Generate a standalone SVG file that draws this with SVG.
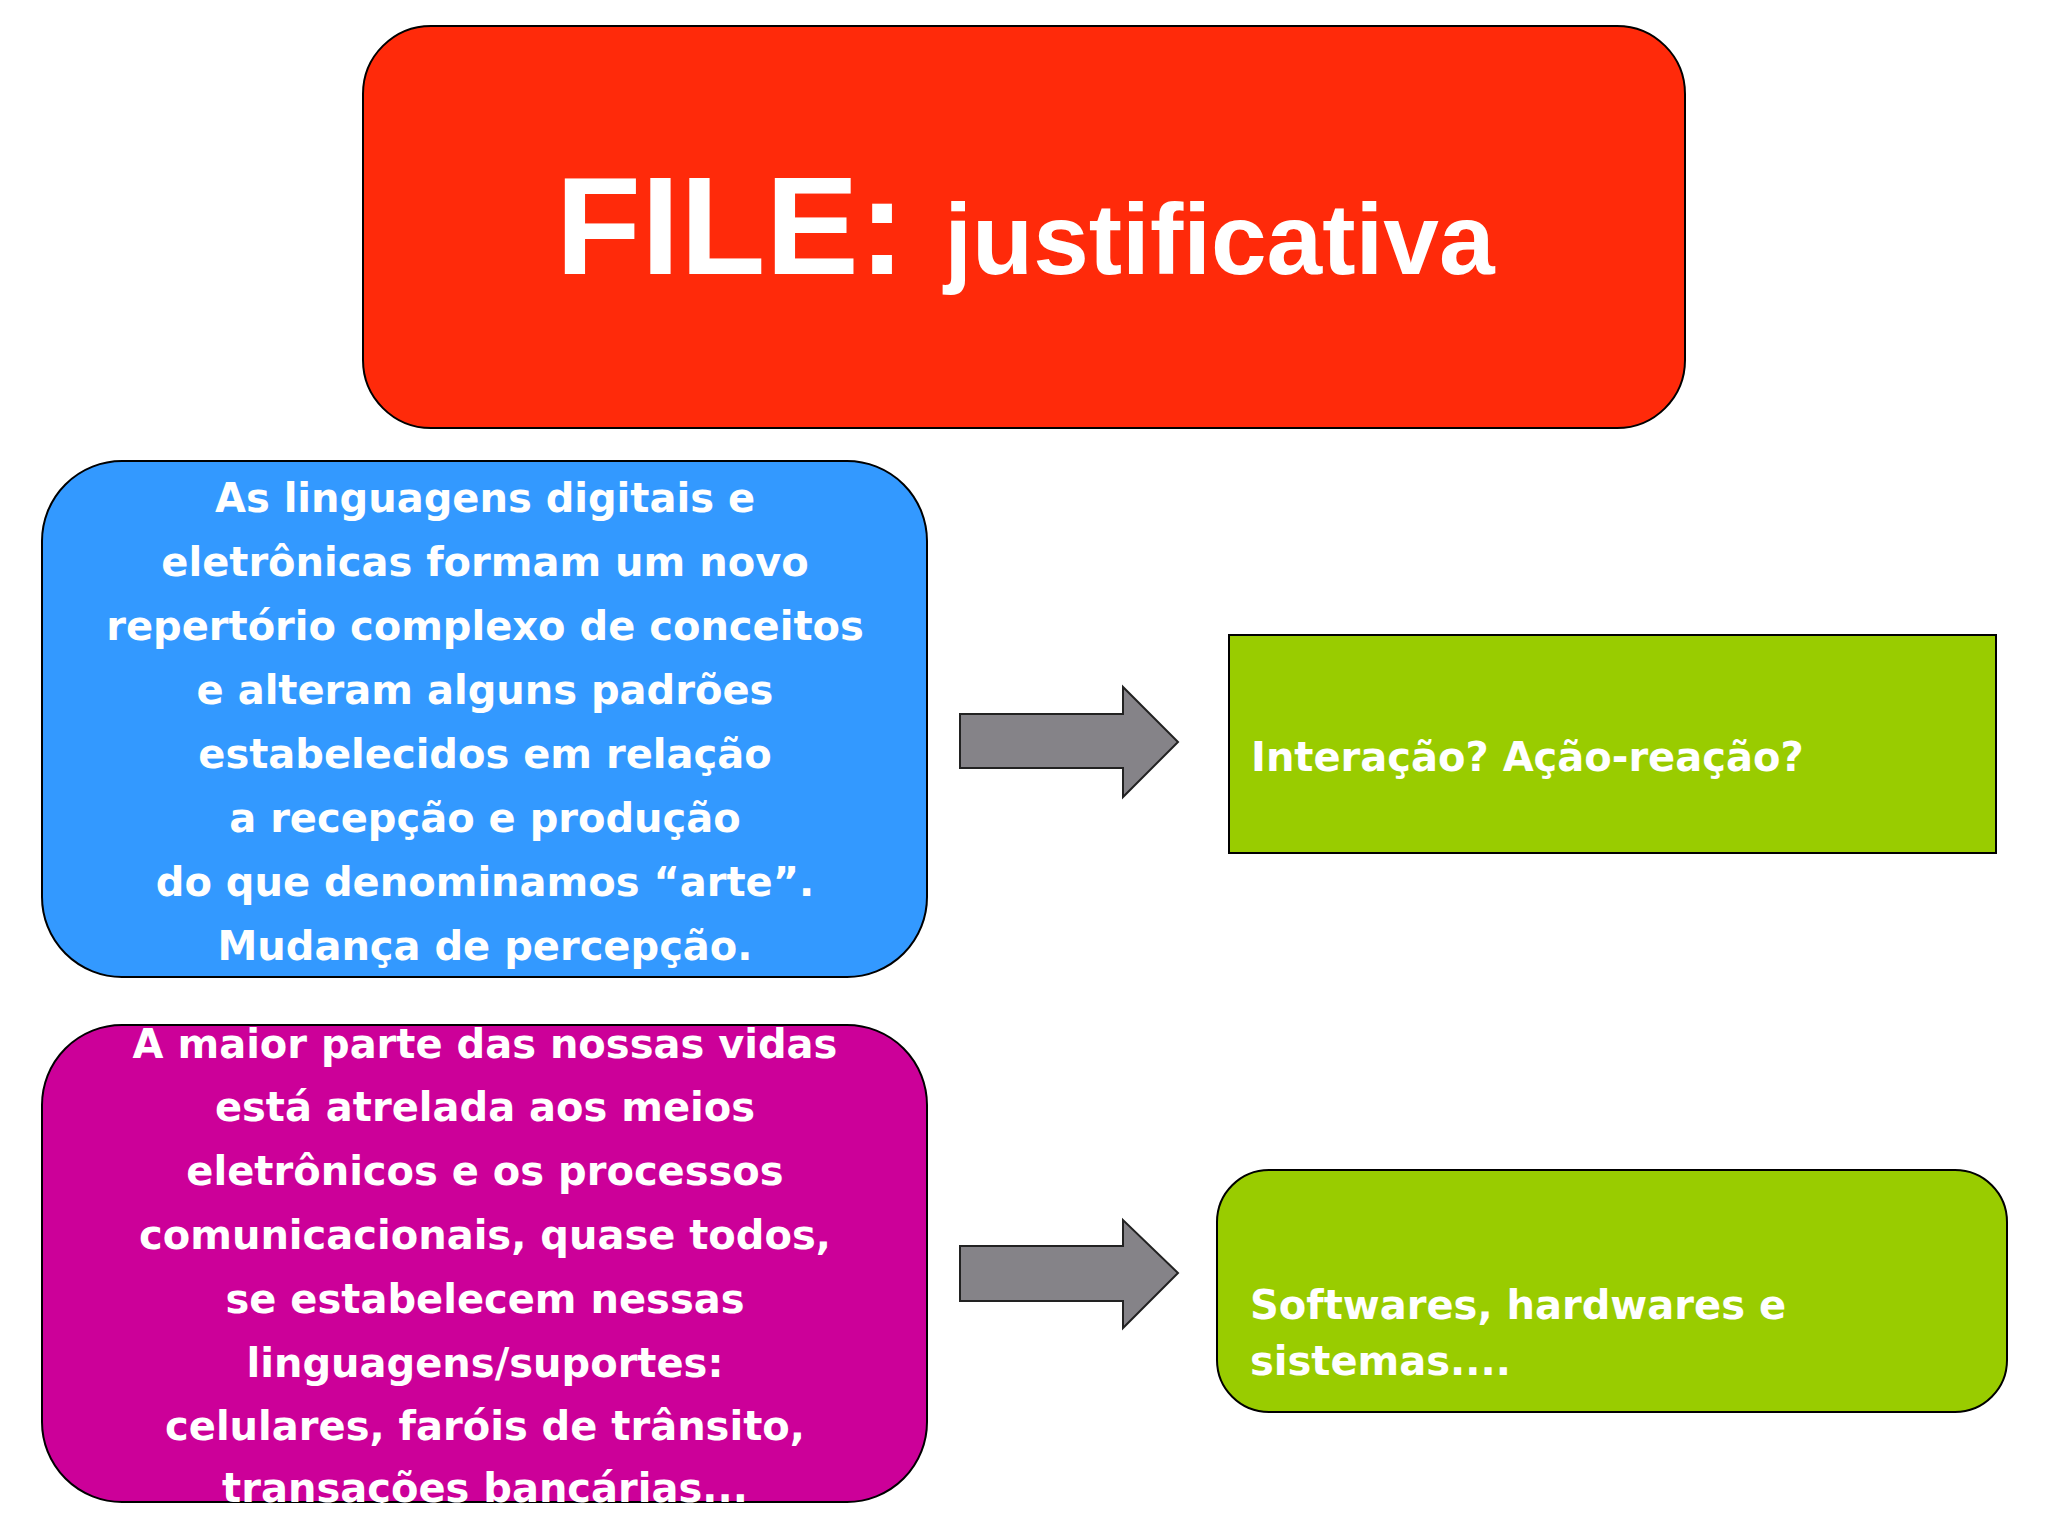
<svg xmlns="http://www.w3.org/2000/svg" width="2048" height="1536" viewBox="0 0 2048 1536">
<style>
.b{stroke:#000;stroke-width:2}
.t{font-family:"DejaVu Sans",Verdana,sans-serif;font-weight:bold;fill:#fff;font-size:40px}
.c{text-anchor:middle}
.ar{fill:#858388;stroke:#222;stroke-width:2}
</style>
<rect width="2048" height="1536" fill="#fff"/>
<g id="title"><rect class="b" x="363" y="26" width="1322" height="402" rx="68" fill="#ff2a0a"/>
<text x="1025" y="274" class="c" style="font-family:'Liberation Sans',Arial,sans-serif;font-weight:bold;fill:#fff"><tspan font-size="140">FILE: </tspan><tspan font-size="100">justificativa</tspan></text></g>
<g id="blue"><rect class="b" x="42" y="461" width="885" height="516" rx="80" fill="#3399ff"/>
<text class="t c" x="485"><tspan x="485" y="512">As linguagens digitais e</tspan><tspan x="485" y="576">eletrônicas formam um novo</tspan><tspan x="485" y="640">repertório complexo de conceitos</tspan><tspan x="485" y="704">e alteram alguns padrões</tspan><tspan x="485" y="768">estabelecidos em relação</tspan><tspan x="485" y="832">a recepção e produção</tspan><tspan x="485" y="896">do que denominamos “arte”.</tspan><tspan x="485" y="960">Mudança de percepção.</tspan></text></g>
<g id="magenta"><rect class="b" x="42" y="1025" width="885" height="477" rx="80" fill="#cc0099"/>
<text class="t c" x="485"><tspan x="485" y="1058">A maior parte das nossas vidas</tspan><tspan x="485" y="1121">está atrelada aos meios</tspan><tspan x="485" y="1185">eletrônicos e os processos</tspan><tspan x="485" y="1249">comunicacionais, quase todos,</tspan><tspan x="485" y="1313">se estabelecem nessas</tspan><tspan x="485" y="1377">linguagens/suportes:</tspan><tspan x="485" y="1440">celulares, faróis de trânsito,</tspan><tspan x="485" y="1502">transações bancárias...</tspan></text></g>
<g id="green1"><rect class="b" x="1229" y="635" width="767" height="218" fill="#99cc00"/>
<text class="t" x="1251" y="771">Interação? Ação-reação?</text></g>
<g id="green2"><rect class="b" x="1217" y="1170" width="790" height="242" rx="52" fill="#99cc00"/>
<text class="t"><tspan x="1250" y="1319">Softwares, hardwares e</tspan><tspan x="1250" y="1375">sistemas....</tspan></text></g>
<g id="connectors">
<polygon class="ar" points="960,714 1123,714 1123,687 1178,742 1123,797 1123,768 960,768"/>
<polygon class="ar" points="960,1246 1123,1246 1123,1220 1178,1273 1123,1328 1123,1301 960,1301"/>
</g>
</svg>
